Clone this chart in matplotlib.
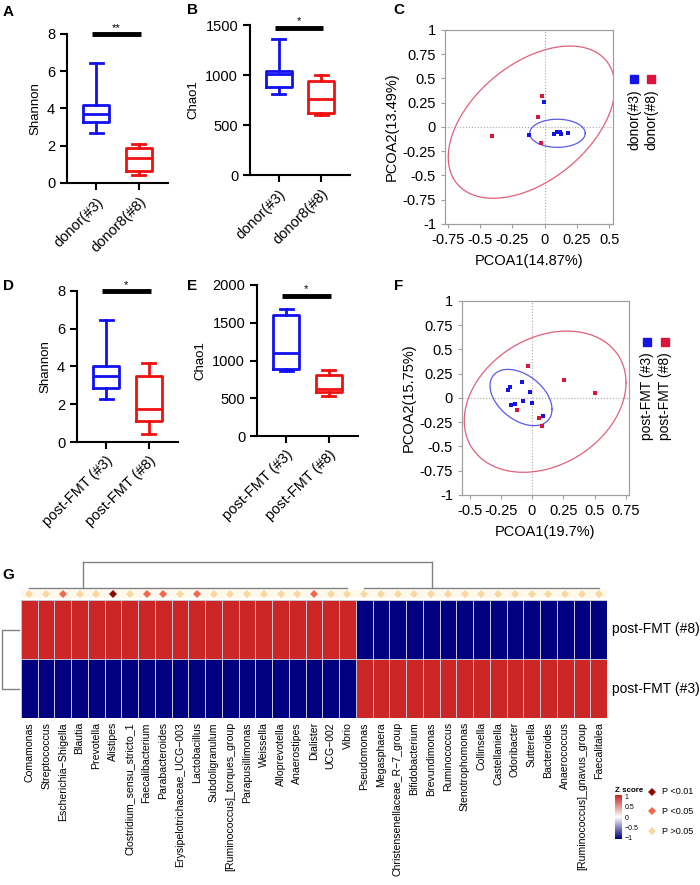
import numpy as np
import matplotlib.pyplot as plt
from matplotlib.colors import LinearSegmentedColormap
from matplotlib.patches import Rectangle
from matplotlib.ticker import FormatStrFormatter

plt.rcParams['font.family'] = ['Liberation Sans', 'DejaVu Sans']
plt.rcParams['axes.unicode_minus'] = False

W, H = 700, 885
BLUE = "#1010F0"
RED = "#F01010"
PT_BLUE = "#1414E6"
PT_RED = "#DC143C"

# ---------------- alpha diversity (min, q1, median, q3, max) ----------------
donor_groups = ["donor(#3)", "donor8(#8)"]
shannon_donor = [[2.71, 3.29, 3.71, 4.18, 6.46], [0.45, 0.66, 1.34, 1.89, 2.11]]
chao1_donor = [[807, 883, 1010, 1040, 1357], [605, 623, 763, 943, 997]]

fmt_groups = ["post-FMT (#3)", "post-FMT (#8)"]
shannon_fmt = [[2.28, 2.88, 3.52, 4.05, 6.46], [0.41, 1.10, 1.77, 3.50, 4.19]]
chao1_fmt = [[866, 893, 1098, 1607, 1679], [531, 580, 616, 813, 870]]

# ---------------- PCoA ----------------
c_blue_x = [-0.005, -0.12, 0.07, 0.10, 0.12, 0.13, 0.18]
c_blue_y = [0.26, -0.08, -0.07, -0.05, -0.055, -0.07, -0.06]
c_red_x = [-0.02, -0.05, -0.41, -0.03]
c_red_y = [0.32, 0.10, -0.09, -0.16]
# ellipse: centre x, centre y, x half-extent, y half-extent, correlation
c_ell_blue = [0.10, -0.065, 0.215, 0.145, 0.0]
c_ell_red = [-0.10, 0.05, 0.645, 0.785, 0.46]

f_blue_x = [-0.19, -0.176, -0.083, -0.013, -0.072, -0.133, -0.168, -0.003, 0.088]
f_blue_y = [0.08, 0.115, 0.17, 0.06, -0.03, -0.06, -0.075, -0.05, -0.185]
f_red_x = [-0.035, 0.256, 0.507, -0.117, 0.053, 0.08]
f_red_y = [0.33, 0.185, 0.05, -0.127, -0.21, -0.29]
f_ell_blue = [-0.088, 0.005, 0.248, 0.29, -0.42]
f_ell_red = [0.105, -0.038, 0.647, 0.728, 0.27]

# ---------------- heatmap ----------------
genera = ["Comamonas", "Streptococcus", "Escherichia−Shigella", "Blautia", "Prevotella",
          "Alistipes", "Clostridium_sensu_stricto_1", "Faecalibacterium", "Parabacteroides",
          "Erysipelotrichaceae_UCG−003", "Lactobacillus", "Subdoligranulum",
          "[Ruminococcus]_torques_group", "Parapusillimonas", "Weissella", "Alloprevotella",
          "Anaerostipes", "Dialister", "UCG−002", "Vibrio",
          "Pseudomonas", "Megasphaera", "Christensenellaceae_R−7_group", "Bifidobacterium",
          "Brevundimonas", "Ruminococcus", "Stenotrophomonas", "Collinsella", "Castellaniella",
          "Odoribacter", "Sutterella", "Bacteroides", "Anaerococcus",
          "[Ruminococcus]_gnavus_group", "Faecalitalea"]
samples = ["post-FMT (#8)", "post-FMT (#3)"]
z_fmt8 = [1, 1, 1, 1, 1, 1, 1, 1, 1, 1, 1, 1, 1, 1, 1, 1, 1, 1, 1, 1,
          -1, -1, -1, -1, -1, -1, -1, -1, -1, -1, -1, -1, -1, -1, -1]
z_fmt3 = [-1, -1, -1, -1, -1, -1, -1, -1, -1, -1, -1, -1, -1, -1, -1, -1, -1, -1, -1, -1,
          1, 1, 1, 1, 1, 1, 1, 1, 1, 1, 1, 1, 1, 1, 1]
# 0: P>0.05, 1: P<0.05, 2: P<0.01
p_class = [0, 0, 1, 0, 0, 2, 0, 1, 1, 0, 1, 0, 0, 0, 0, 0, 0, 1, 0, 0,
           0, 0, 0, 0, 0, 0, 0, 0, 0, 0, 0, 0, 0, 0, 0]
p_labels = ["P >0.05", "P <0.05", "P <0.01"]
p_colors = ["#FAD7A0", "#F4694B", "#8B0A0A"]
col_clusters = [(0, 19), (20, 34)]
col_joins = [3.73, 24.55]


def box(l, t, r, b):
    return [l / W, 1 - b / H, (r - l) / W, (b - t) / H]


fig = plt.figure(figsize=(W / 100, H / 100), dpi=100)


def alpha_panel(rect, stats, groups, ylabel, ylim, yticks, sig, sig_y):
    ax = fig.add_axes(rect)
    for i, (s, c) in enumerate(zip(stats, [BLUE, RED])):
        st = [dict(whislo=s[0], q1=s[1], med=s[2], q3=s[3], whishi=s[4], fliers=[])]
        lp = dict(color=c, lw=2)
        ax.bxp(st, positions=[i + 1], widths=0.62, capwidths=0.3, showfliers=False,
               boxprops=lp, whiskerprops=lp, capprops=lp, medianprops=lp)
    ax.set_xlim(0.32, 2.68)
    ax.set_ylim(*ylim)
    ax.set_yticks(yticks)
    ax.set_xticks([1, 2])
    ax.set_xticklabels(groups, rotation=45, ha='right', rotation_mode='anchor', fontsize=10.5)
    ax.tick_params(axis='y', labelsize=10.5)
    ax.tick_params(width=1.5, length=5)
    for s in ['top', 'right']:
        ax.spines[s].set_visible(False)
    for s in ['left', 'bottom']:
        ax.spines[s].set_linewidth(1.5)
    ax.set_ylabel(ylabel, fontsize=9.5, labelpad=4)
    ax.plot([0.9, 2.05], [sig_y, sig_y], color='k', lw=3.5, clip_on=False,
            solid_capstyle='butt')
    ax.annotate(sig, (1.47, sig_y), xytext=(0, 1), textcoords='offset points',
                ha='center', va='bottom', fontsize=8, annotation_clip=False)
    return ax


def ellipse_xy(p):
    cx, cy, sx, sy, rho = p
    phi = np.linspace(0, 2 * np.pi, 300)
    x = cx + sx * np.cos(phi)
    y = cy + sy * (rho * np.cos(phi) + np.sqrt(1 - rho ** 2) * np.sin(phi))
    return x, y


def pcoa_panel(rect, bx, by, rx, ry, eb, er, xlim, xticks, xlabel, ylabel):
    ax = fig.add_axes(rect)
    ax.axhline(0, color='#A8A8A8', ls=':', lw=0.8)
    ax.axvline(0, color='#A8A8A8', ls=':', lw=0.8)
    ax.plot(*ellipse_xy(er), color='#E0607A', lw=0.9)
    ax.plot(*ellipse_xy(eb), color='#5A5AE6', lw=0.9)
    ax.plot(bx, by, 's', color=PT_BLUE, ms=3.3, mew=0)
    ax.plot(rx, ry, 's', color=PT_RED, ms=3.3, mew=0)
    ax.set_xlim(*xlim)
    ax.set_ylim(-1.0, 1.0)
    ax.set_xticks(xticks)
    ax.set_yticks([-1, -0.75, -0.5, -0.25, 0, 0.25, 0.5, 0.75, 1])
    ax.xaxis.set_major_formatter(FormatStrFormatter('%g'))
    ax.yaxis.set_major_formatter(FormatStrFormatter('%g'))
    for s in ax.spines.values():
        s.set_color('#A0A0A0')
        s.set_linewidth(0.9)
    ax.tick_params(color='#A0A0A0', length=3, width=0.8, labelsize=10.5)
    ax.set_xlabel(xlabel, fontsize=10.5, labelpad=5)
    ax.set_ylabel(ylabel, fontsize=10.5, labelpad=3)
    return ax


def square_legend(x_px, y_px, labels):
    for (xp, lab, c) in zip(x_px, labels, [PT_BLUE, PT_RED]):
        fig.patches.append(Rectangle(((xp - 4) / W, 1 - (y_px + 4) / H), 8 / W, 8 / H,
                                     transform=fig.transFigure, color=c))
        fig.text(xp / W, 1 - (y_px + 10) / H, lab, rotation=90, ha='center', va='top',
                 fontsize=10)


# A, B
alpha_panel(box(67, 34, 168, 183), shannon_donor, donor_groups, "Shannon", (0, 8),
            [0, 2, 4, 6, 8], "**", 8)
alpha_panel(box(250, 25, 350, 175), chao1_donor, donor_groups, "Chao1", (0, 1500),
            [0, 500, 1000, 1500], "*", 1475)
# C
pcoa_panel(box(445, 30, 613, 224), c_blue_x, c_blue_y, c_red_x, c_red_y, c_ell_blue,
           c_ell_red, (-0.77, 0.53), [-0.75, -0.5, -0.25, 0, 0.25, 0.5],
           "PCOA1(14.87%)", "PCOA2(13.49%)")
square_legend([634, 651], 79, ["donor(#3)", "donor(#8)"])

# D, E
alpha_panel(box(77, 291, 178, 442), shannon_fmt, fmt_groups, "Shannon", (0, 8),
            [0, 2, 4, 6, 8], "*", 8)
alpha_panel(box(257, 285, 358, 436), chao1_fmt, fmt_groups, "Chao1", (0, 2000),
            [0, 500, 1000, 1500, 2000], "*", 1860)
# F
pcoa_panel(box(462, 301, 629, 495), f_blue_x, f_blue_y, f_red_x, f_red_y, f_ell_blue,
           f_ell_red, (-0.56, 0.776), [-0.5, -0.25, 0, 0.25, 0.5, 0.75],
           "PCOA1(19.7%)", "PCOA2(15.75%)")
square_legend([647, 665], 342, ["post-FMT (#3)", "post-FMT (#8)"])

# G heatmap
cmap = LinearSegmentedColormap.from_list("nwf", ["#000080", "#FFFFFF", "#CD2626"])
n = len(genera)
hm = fig.add_axes(box(21, 600, 607, 718))
Z = np.array([z_fmt8, z_fmt3], dtype=float)
hm.pcolormesh(np.arange(n + 1), np.arange(3), Z, cmap=cmap, vmin=-1, vmax=1,
              edgecolors='#C4C4D0', linewidth=0.45)
hm.set_xlim(0, n)
hm.set_ylim(2, 0)
hm.set_xticks(np.arange(n) + 0.5)
hm.set_xticklabels(genera, rotation=90, fontsize=7.6)
hm.set_yticks([])
hm.tick_params(axis='x', length=0, pad=3)
for s in hm.spines.values():
    s.set_visible(False)
for i, lab in enumerate(samples):
    hm.text(n + 0.3, i + 0.5, lab, ha='left', va='center', fontsize=10)

# column dendrogram + significance diamonds
top = fig.add_axes(box(21, 555, 607, 600))
top.set_xlim(0, n)
top.set_ylim(0, 45)
top.axis('off')
top.add_patch(Rectangle((0, 2), n, 8, color='#FFF8EC', lw=0))
cx = np.arange(n) + 0.5
for k in range(3):
    m = [i for i in range(n) if p_class[i] == k]
    top.plot(cx[m], [6] * len(m), 'D', color=p_colors[k], ms=3.8, mew=0)
for (a, b), j in zip(col_clusters, col_joins):
    top.plot([cx[a], cx[b]], [12, 12], color='#808080', lw=1)
    top.plot([j, j], [12, 38], color='#808080', lw=1)
top.plot(col_joins, [38, 38], color='#808080', lw=1)

# row dendrogram
rd = fig.add_axes(box(0, 600, 21, 718))
rd.set_xlim(0, 21)
rd.set_ylim(2, 0)
rd.axis('off')
rd.plot([19, 2, 2, 19], [0.5, 0.5, 1.5, 1.5], color='#808080', lw=1)

# Z score colour bar
cb = fig.add_axes(box(615, 795, 622, 839))
cb.imshow(np.linspace(1, -1, 100)[:, None], cmap=cmap, vmin=-1, vmax=1, aspect='auto',
          extent=[0, 1, -1.05, 1.05])
cb.set_xticks([])
cb.yaxis.tick_right()
cb.set_yticks([1, 0.5, 0, -0.5, -1])
cb.set_yticklabels(["1", "0.5", "0", "−0.5", "−1"], fontsize=5)
cb.tick_params(axis='y', length=0, pad=2)
for s in cb.spines.values():
    s.set_visible(False)
fig.text(615 / W, 1 - 790 / H, "Z score", fontsize=5.7, fontweight='bold', va='center')

pl = fig.add_axes(box(645, 782, 700, 840))
pl.set_xlim(0, 55)
pl.set_ylim(58, 0)
pl.axis('off')
for k, yy in zip([2, 1, 0], [10, 29, 49]):
    pl.plot([7], [yy], 'D', color=p_colors[k], ms=4, mew=0)
    pl.text(17, yy, p_labels[k], fontsize=6.5, va='center')

# panel letters
for lab, x, y in [("A", 8, 12), ("B", 192, 10), ("C", 399, 10), ("D", 8, 286),
                  ("E", 192, 286), ("F", 399, 286), ("G", 8, 575)]:
    fig.text(x / W, 1 - y / H, lab, fontsize=11, fontweight='bold', ha='center', va='center')

fig.savefig("out.png", dpi=100)
